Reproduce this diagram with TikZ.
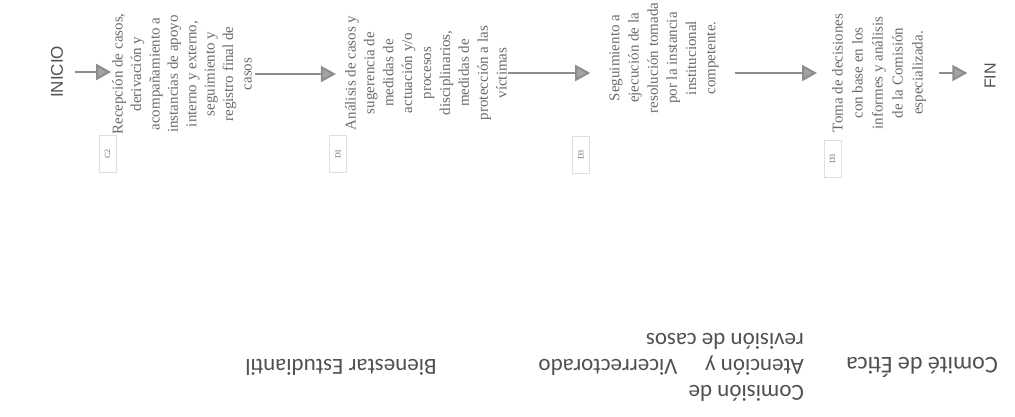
\documentclass[tikz,border=0pt]{standalone}
\usepackage{fontspec}
\setmainfont{Liberation Serif}
\newfontfamily\arialf{Liberation Sans}
\newfontfamily\calibf{Carlito}
\usetikzlibrary{arrows.meta}
\definecolor{txtgray}{HTML}{6A6A6A}
\definecolor{arrgray}{HTML}{8C8C8C}
\definecolor{headgray}{HTML}{A3A3A3}
\definecolor{lblgray}{HTML}{505050}
\begin{document}
\begin{tikzpicture}[x=1pt,y=-1pt,
  stepbox/.style={rotate=90, align=center, inner sep=0pt, text=txtgray},
  endtxt/.style={rotate=90, inner sep=0pt, text=lblgray, font=\arialf\fontsize{17}{20}\selectfont},
  arr/.style={draw=arrgray, line width=2pt, -{Triangle[length=15pt,width=16pt,fill=headgray]}},
  codebox/.style={draw=gray!25, line width=0.6pt, rotate=90, minimum width=37pt, minimum height=17pt, inner sep=0pt, text=txtgray, font=\fontsize{8}{9}\selectfont},
  lane/.style={rotate=180, align=center, text=lblgray, inner sep=0pt, font=\calibf\fontsize{23}{26}\selectfont}]
\useasboundingbox (0,0) rectangle (1015,416);
% start / end
\node[endtxt] (inicio) at (57,72) {INICIO};
\node[endtxt, font=\arialf\fontsize{16}{19}\selectfont] (fin) at (990,76) {FIN};
% steps
\node[stepbox, font=\fontsize{15}{18.4}\selectfont] (t1) at (182,74) {Recepción de casos,\\derivación y\\acompañamiento a\\instancias de apoyo\\interno y externo,\\seguimiento y\\registro final de\\casos};
\node[stepbox, font=\fontsize{15}{18.9}\selectfont] (t2) at (426,73) {Análisis de casos y\\sugerencia de\\medidas de\\actuación y/o\\procesos\\disciplinarios,\\medidas de\\protección a las\\víctimas};
\node[stepbox, font=\fontsize{15}{19.2}\selectfont] (t3) at (664,58) {Seguimiento a\\ejecución de la\\resolución tomada\\por la instancia\\institucional\\competente.};
\node[stepbox, font=\fontsize{15}{20}\selectfont] (t4) at (879,73) {Toma de decisiones\\con base en los\\informes y análisis\\de la Comisión\\especializada.};
% code boxes
\node[codebox] (c1) at (107.5,154) {C2};
\node[codebox] (c2) at (338,154) {D1};
\node[codebox] (c3) at (581,155) {D3};
\node[codebox] (c4) at (832.5,159) {D3};
% arrows
\draw[arr] ([xshift=12pt]inicio.south) -- ([xshift=-1pt]inicio.south -| t1.north);
\draw[arr] ([xshift=3pt]t1.south) -- ([xshift=-9pt]t1.south -| t2.north);
\draw[arr] ([xshift=1pt]t2.south) -- ([xshift=-19pt]t2.south -| t3.north);
\draw[arr] ([xshift=16pt]t3.south |- t2.south) -- ([xshift=-15pt]t2.south -| t4.north);
\draw[arr] ([xshift=13pt]t4.south) -- ([xshift=-17pt]t4.south -| fin.north);
% lanes
\node[lane] (l1) at (341,367) {Bienestar Estudiantil};
\node[lane] (l2) at (608,367) {Vicerrectorado};
\node[lane, align=left, anchor=west] (l3) at (804,367) {Comisión de\\Atención y\\revisión de casos};
\node[lane, font=\calibf\fontsize{24}{26}\selectfont] (l4) at (922,367) {Comité de Ética};
\end{tikzpicture}
\end{document}
